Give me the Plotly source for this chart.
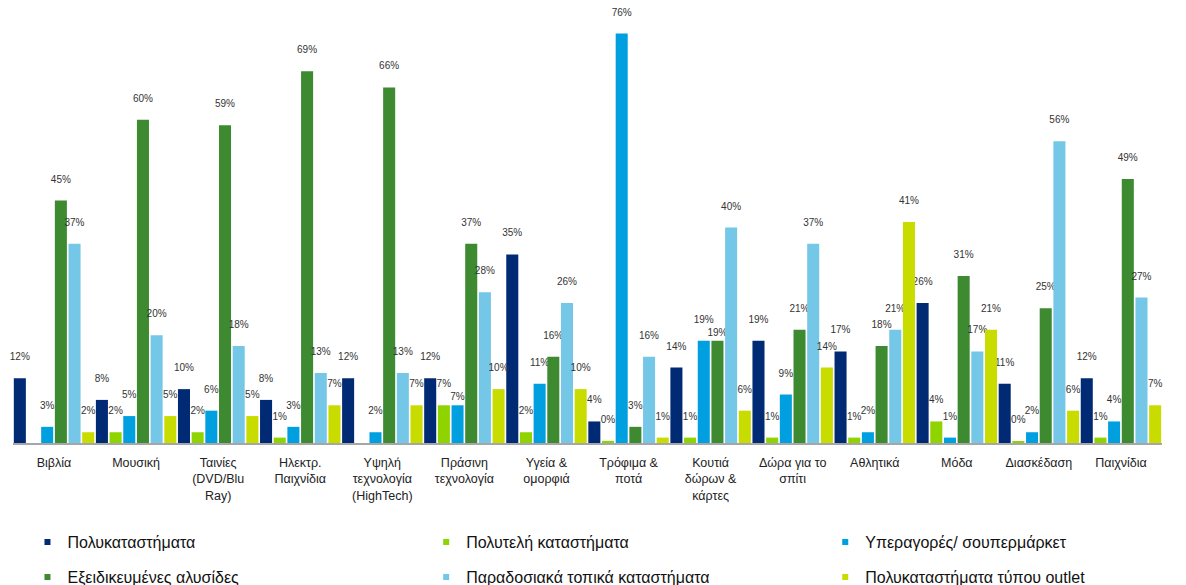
import plotly.graph_objects as go

categories = ["Βιβλία", "Μουσική", "Ταινίες<br>(DVD/Blu<br>Ray)", "Ηλεκτρ.<br>Παιχνίδια",
              "Υψηλή<br>τεχνολογία<br>(HighTech)", "Πράσινη<br>τεχνολογία", "Υγεία &<br>ομορφιά",
              "Τρόφιμα &<br>ποτά", "Κουτιά<br>δώρων &<br>κάρτες", "Δώρα για το<br>σπίτι",
              "Αθλητικά", "Μόδα", "Διασκέδαση", "Παιχνίδια"]

series_names = ["Πολυκαταστήματα", "Πολυτελή καταστήματα", "Υπεραγορές/ σουπερμάρκετ",
                "Εξειδικευμένες αλυσίδες", "Παραδοσιακά τοπικά καταστήματα",
                "Πολυκαταστήματα τύπου outlet"]

department = [0.12, 0.08, 0.10, 0.08, 0.12, 0.12, 0.35, 0.04, 0.14, 0.19, 0.17, 0.26, 0.11, 0.12]
luxury = [None, 0.02, 0.02, 0.01, None, 0.07, 0.02, 0.004, 0.01, 0.01, 0.01, 0.04, 0.002, 0.01]
supermarket = [0.03, 0.05, 0.06, 0.03, 0.02, 0.07, 0.11, 0.76, 0.19, 0.09, 0.02, 0.01, 0.02, 0.04]
chains = [0.45, 0.60, 0.59, 0.69, 0.66, 0.37, 0.16, 0.03, 0.19, 0.21, 0.18, 0.31, 0.25, 0.49]
local = [0.37, 0.20, 0.18, 0.13, 0.13, 0.28, 0.26, 0.16, 0.40, 0.37, 0.21, 0.17, 0.56, 0.27]
outlet = [0.02, 0.05, 0.05, 0.07, 0.07, 0.10, 0.10, 0.01, 0.06, 0.14, 0.41, 0.21, 0.06, 0.07]

colors = ["#002A74", "#8FD400", "#00A0E0", "#3D8A30", "#75C7E7", "#C8DC00"]
values = [department, luxury, supermarket, chains, local, outlet]

# labels that sit directly on their bar (no extra lift), as in the reference
tight_labels = {(2, "Πράσινη<br>τεχνολογία"), (3, "Κουτιά<br>δώρων &<br>κάρτες")}

# legend placement (paper coords): 3 columns x 2 rows
legend_x = [0.0126, 0.0126, 0.3596, 0.3596, 0.7069, 0.7069]
legend_y = [-0.2297, -0.3109, -0.2297, -0.3109, -0.2297, -0.3109]
legend_order = [0, 3, 1, 4, 2, 5]  # series index placed in each slot

fig = go.Figure()
for si, (name, vals, col) in enumerate(zip(series_names, values, colors)):
    templates = ["%{y:.0%}" if (si, c) in tight_labels else "%{y:.0%}<br> " for c in categories]
    fig.add_trace(go.Bar(
        x=categories, y=vals, name=name, showlegend=False,
        marker=dict(color=col, line=dict(width=0)),
        texttemplate=templates, textposition="outside",
        constraintext="none",
        textfont=dict(size=10, color="#333333"),
        cliponaxis=False,
    ))

legend_layouts = {}
for slot, si in enumerate(legend_order):
    key = "legend" if slot == 0 else f"legend{slot + 1}"
    fig.add_trace(go.Scatter(
        x=[None], y=[None], mode="markers", name=series_names[si],
        marker=dict(symbol="square", size=6, color=colors[si]),
        legend=key, showlegend=True, hoverinfo="skip",
    ))
    legend_layouts[key] = dict(
        x=legend_x[slot], y=legend_y[slot], xanchor="left", yanchor="middle",
        orientation="h", itemwidth=30, bgcolor="rgba(0,0,0,0)",
        font=dict(size=16, color="#111111", family="Liberation Sans, Arial, sans-serif"),
    )

fig.update_layout(
    width=1186, height=585,
    margin=dict(l=13, r=24, t=12, b=142, autoexpand=False),
    paper_bgcolor="white", plot_bgcolor="white",
    font=dict(family="Liberation Sans, Arial, sans-serif", color="#222222", size=12),
    barmode="group", bargap=0.0, bargroupgap=0.12,
    **legend_layouts,
)
fig.update_xaxes(showline=True, linecolor="#A6A6A6", linewidth=2, ticks="",
                 ticklabelstandoff=7,
                 tickfont=dict(size=12.5, color="#222222"), showgrid=False)
fig.update_yaxes(range=[0, 0.8], visible=False, showgrid=False)

fig.write_html("out.html")
